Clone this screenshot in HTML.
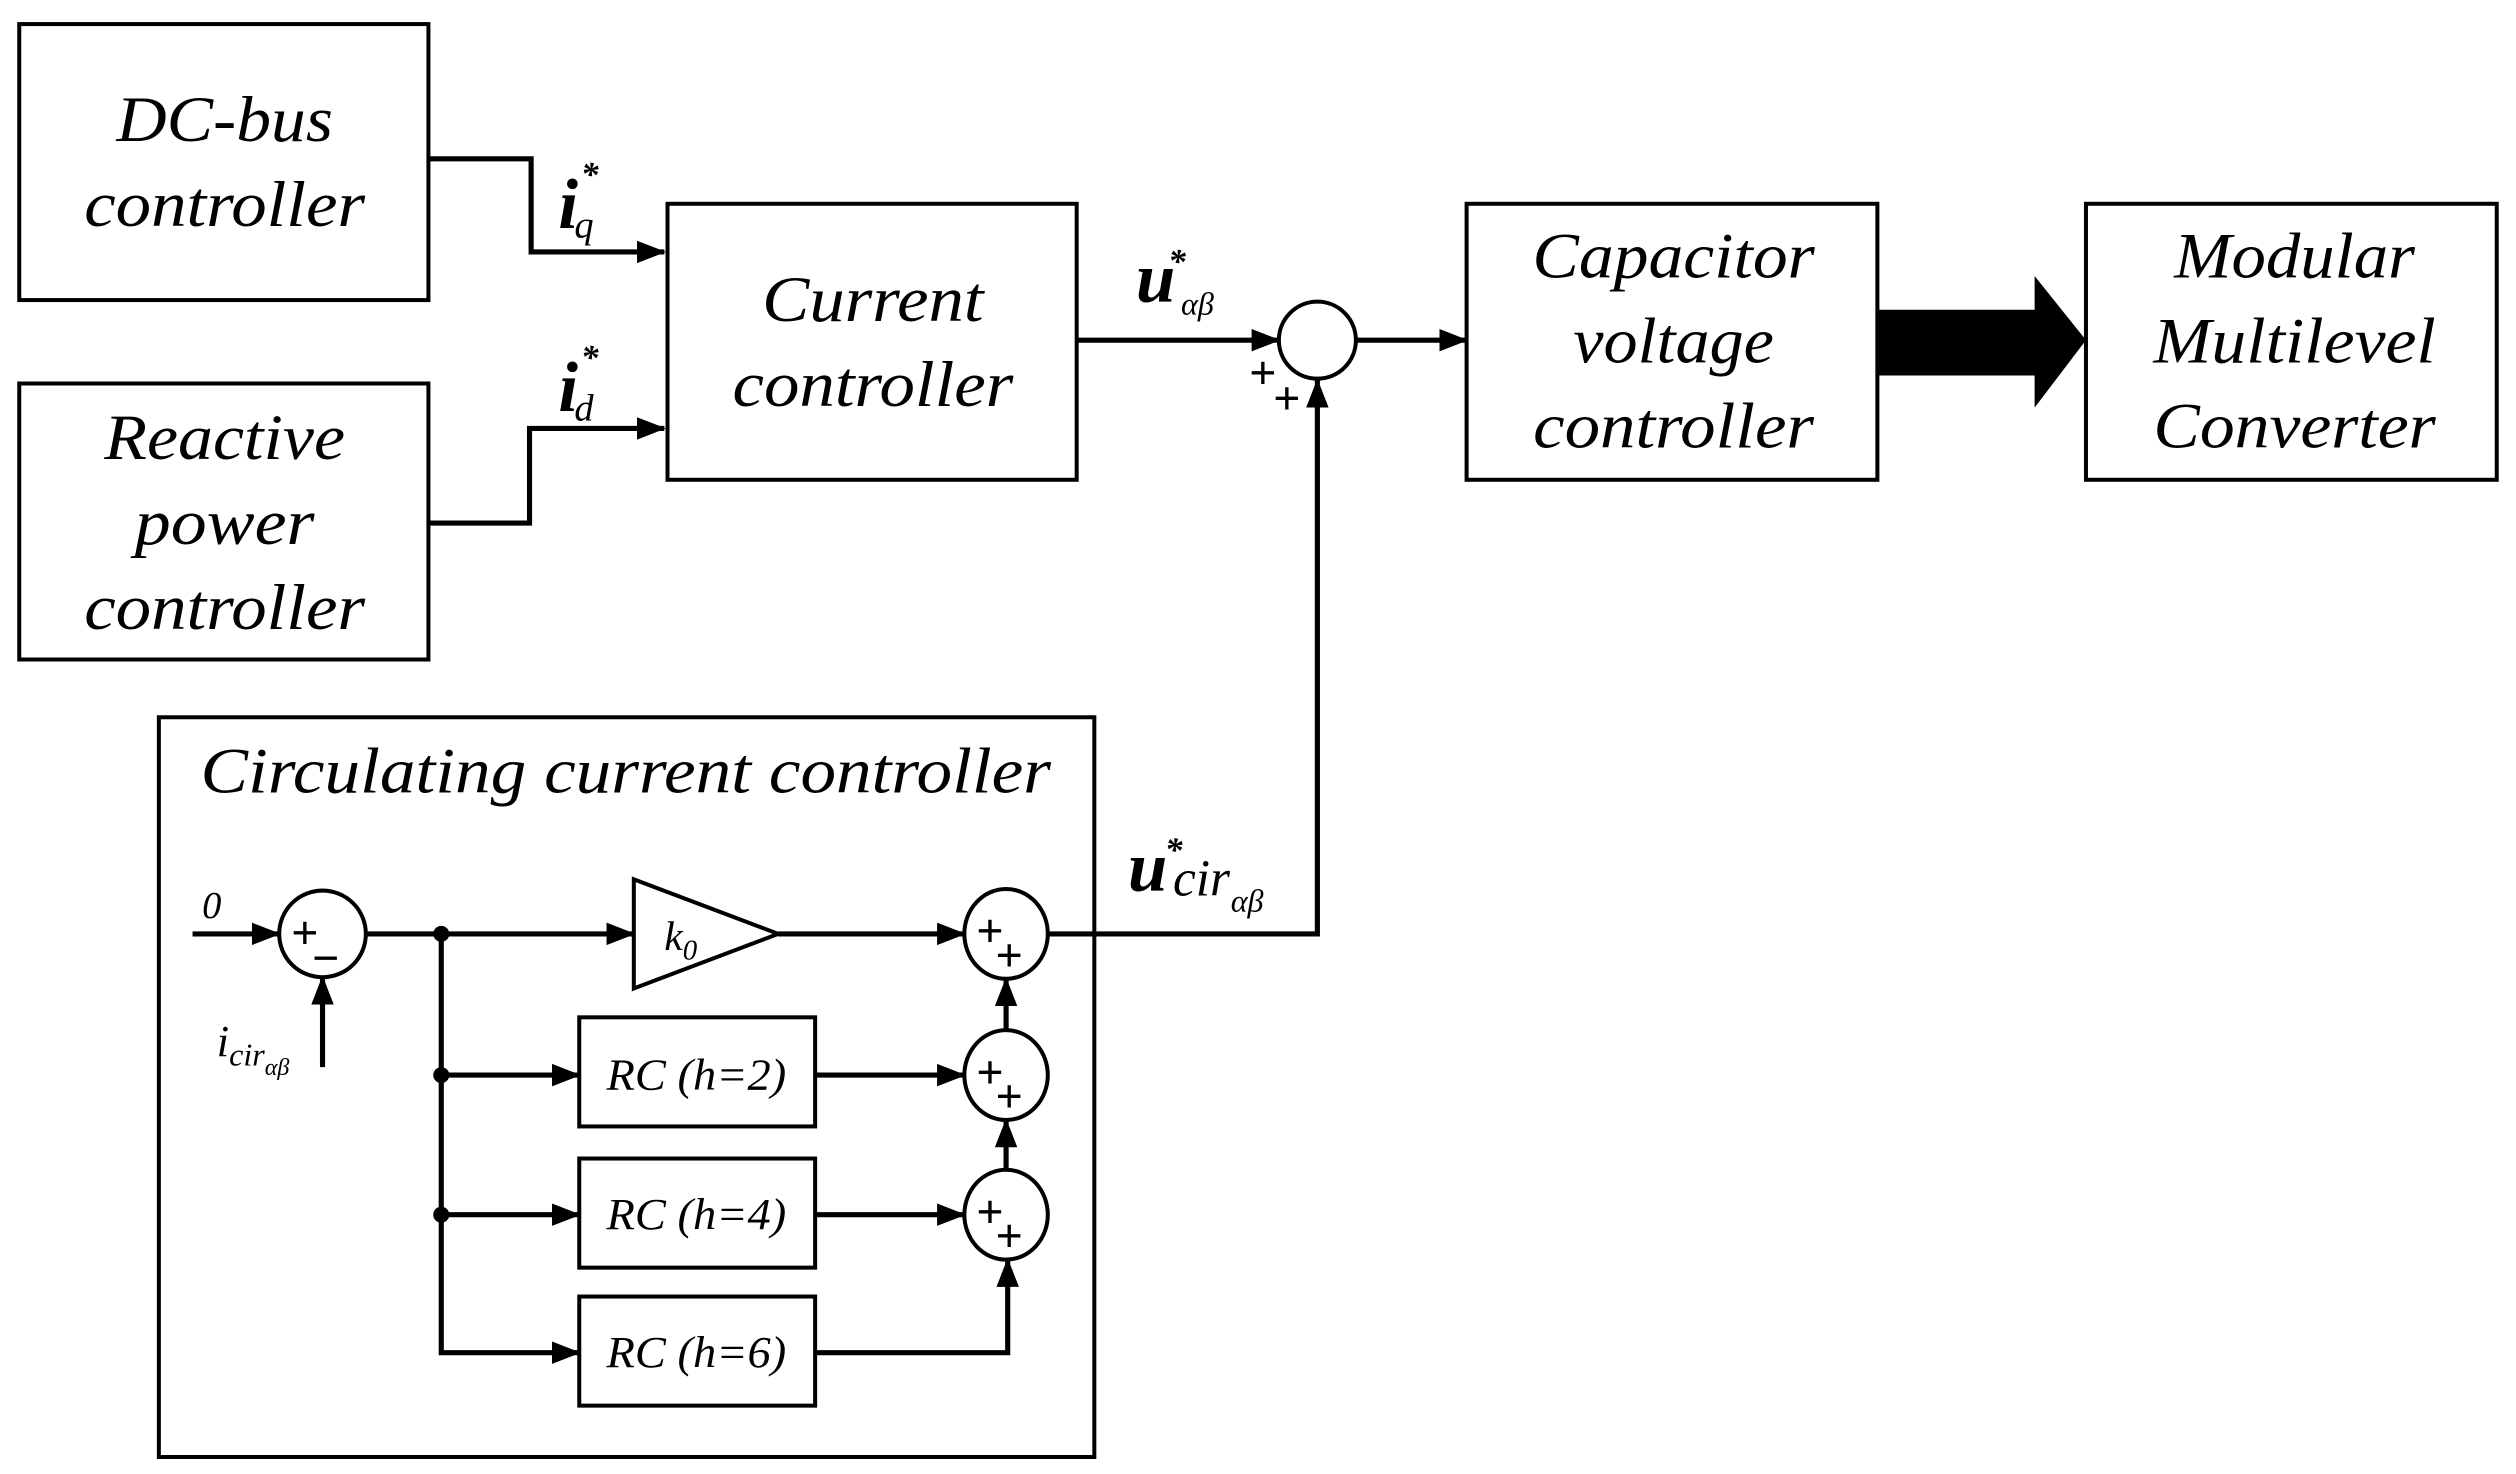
<!DOCTYPE html>
<html><head><meta charset="utf-8"><style>
html,body{margin:0;padding:0;background:#fff;}
svg{display:block;}
text{font-family:"Liberation Serif","Times New Roman",serif;font-style:italic;fill:#000;}
</style></head><body>
<svg width="2516" height="1474" viewBox="0 0 1568 918.6" preserveAspectRatio="none" xmlns="http://www.w3.org/2000/svg">
<defs>
<marker id="a" markerWidth="18" markerHeight="14" refX="17" refY="7" orient="auto" markerUnits="userSpaceOnUse" viewBox="0 0 18 14">
<path d="M0,0 L18,7 L0,14 z" fill="#000"/></marker>
</defs>
<rect width="1568" height="918.6" fill="#fff"/>
<g fill="none" stroke="#000" stroke-width="2.5">
<rect x="12" y="15" width="255" height="172"/>
<rect x="12" y="239" width="255" height="172"/>
<rect x="416" y="127" width="255" height="172"/>
<rect x="914" y="127" width="256" height="172"/>
<rect x="1300" y="127" width="256" height="172"/>
<rect x="99" y="447" width="583" height="461"/>
<circle cx="821" cy="212" r="24"/>
<rect x="361" y="634" width="147" height="68"/>
<rect x="361" y="722" width="147" height="68"/>
<rect x="361" y="808" width="147" height="68"/>
<path d="M395,548 L395,616 L485,582 Z"/>
<ellipse cx="201" cy="582" rx="27" ry="27"/>
<ellipse cx="627" cy="582" rx="26" ry="28"/>
<ellipse cx="627" cy="670" rx="26" ry="28"/>
<ellipse cx="627" cy="757" rx="26" ry="28"/>
</g>
<g fill="none" stroke="#000" stroke-width="3.2">
<path d="M267,99 H331 V157 H414" marker-end="url(#a)"/>
<path d="M267,326 H330 V267 H414" marker-end="url(#a)"/>
<path d="M671,212 H797" marker-end="url(#a)"/>
<path d="M845,212 H914" marker-end="url(#a)"/>
<path d="M654,582 H821 V237" marker-end="url(#a)"/>
<path d="M120,582 H174" marker-end="url(#a)"/>
<path d="M201,665 V609" marker-end="url(#a)"/>
<path d="M228,582 H395" marker-end="url(#a)"/>
<path d="M485,582 H601" marker-end="url(#a)"/>
<path d="M275,582 V843 H361" marker-end="url(#a)"/>
<path d="M275,670 H361" marker-end="url(#a)"/>
<path d="M275,757 H361" marker-end="url(#a)"/>
<path d="M508,670 H601" marker-end="url(#a)"/>
<path d="M508,757 H601" marker-end="url(#a)"/>
<path d="M508,843 H628 V785" marker-end="url(#a)"/>
<path d="M627,642 V610" marker-end="url(#a)"/>
<path d="M627,729 V698" marker-end="url(#a)"/>
</g>
<g fill="#000">
<circle cx="275" cy="582" r="5"/><circle cx="275" cy="670" r="5"/><circle cx="275" cy="757" r="5"/>
<path d="M1170,193 H1268 V172 L1300,212 L1268,254 V234 H1170 Z"/>
</g>
<g font-size="40" text-anchor="middle">
<text x="140" y="88" textLength="135" lengthAdjust="spacingAndGlyphs">DC-bus</text>
<text x="140" y="141" textLength="175" lengthAdjust="spacingAndGlyphs">controller</text>
<text x="140" y="286" textLength="150" lengthAdjust="spacingAndGlyphs">Reactive</text>
<text x="140" y="339" textLength="112" lengthAdjust="spacingAndGlyphs">power</text>
<text x="140" y="392" textLength="175" lengthAdjust="spacingAndGlyphs">controller</text>
<text x="544" y="200" textLength="138" lengthAdjust="spacingAndGlyphs">Current</text>
<text x="544" y="253" textLength="175" lengthAdjust="spacingAndGlyphs">controller</text>
<text x="1043" y="173" textLength="176" lengthAdjust="spacingAndGlyphs">Capacitor</text>
<text x="1043" y="226" textLength="125" lengthAdjust="spacingAndGlyphs">voltage</text>
<text x="1043" y="279" textLength="175" lengthAdjust="spacingAndGlyphs">controller</text>
<text x="1430" y="173" textLength="150" lengthAdjust="spacingAndGlyphs">Modular</text>
<text x="1430" y="226" textLength="176" lengthAdjust="spacingAndGlyphs">Multilevel</text>
<text x="1430" y="279" textLength="176" lengthAdjust="spacingAndGlyphs">Converter</text>
<text x="390" y="494" textLength="530" lengthAdjust="spacingAndGlyphs">Circulating current controller</text>
</g>
<g font-size="28" text-anchor="middle">
<text x="434" y="679" textLength="112" lengthAdjust="spacingAndGlyphs">RC (h=2)</text>
<text x="434" y="766" textLength="112" lengthAdjust="spacingAndGlyphs">RC (h=4)</text>
<text x="434" y="852" textLength="112" lengthAdjust="spacingAndGlyphs">RC (h=6)</text>
</g>
<text x="414" y="592" font-size="26">k<tspan font-size="18" dy="6">0</tspan></text>
<text x="126" y="572" font-size="24">0</text>
<text x="135" y="658" font-size="28">i<tspan font-size="20" dy="6">cir</tspan><tspan font-size="15" dy="6">αβ</tspan></text>
<g font-weight="bold">
<text x="348" y="142" font-size="44">i</text><text x="362" y="116" font-size="22">*</text><text x="358" y="148" font-size="24" font-weight="normal">q</text>
<text x="348" y="256" font-size="44">i</text><text x="362" y="230" font-size="22">*</text><text x="358" y="262" font-size="24" font-weight="normal">d</text>
<text x="708" y="188" font-size="44">u</text><text x="728" y="170" font-size="22">*</text><text x="736" y="196" font-size="20" font-weight="normal">αβ</text>
<text x="703" y="555" font-size="44">u</text><text x="726" y="537" font-size="22">*</text><text x="731" y="558" font-size="32" font-weight="normal">cir</text><text x="767" y="568" font-size="20" font-weight="normal">αβ</text>
</g>
<g font-weight="bold" font-size="30" text-anchor="middle" style="font-style:normal;font-family:'Liberation Sans',sans-serif">
<text x="787" y="242" style="font-style:normal">+</text><text x="802" y="258" style="font-style:normal">+</text>
<text x="190" y="591" style="font-style:normal">+</text><text x="203" y="607" style="font-style:normal">−</text>
<text x="617" y="590" style="font-style:normal">+</text><text x="629" y="605" style="font-style:normal">+</text>
<text x="617" y="678" style="font-style:normal">+</text><text x="629" y="693" style="font-style:normal">+</text>
<text x="617" y="765" style="font-style:normal">+</text><text x="629" y="780" style="font-style:normal">+</text>
</g>
</svg>
</body></html>
